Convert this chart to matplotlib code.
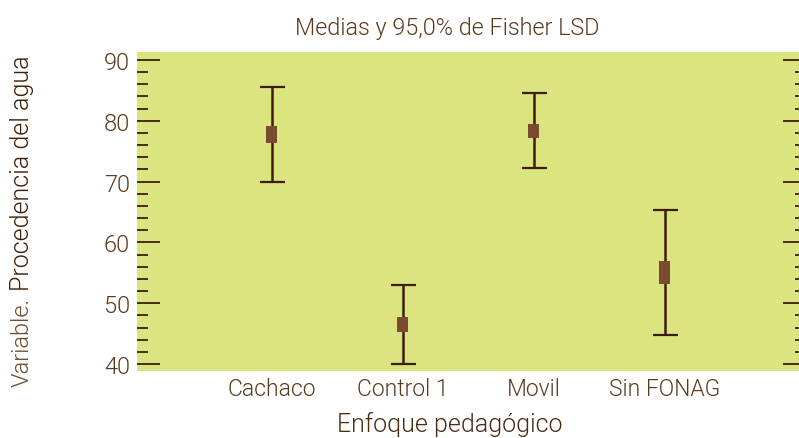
import matplotlib
matplotlib.use("Agg")
import matplotlib.pyplot as plt
import numpy as np

categories = ["Cachaco", "Control 1", "Movil", "Sin FONAG"]
means = [77.7, 46.5, 78.3, 55.0]
lower = [70.0, 40.0, 72.2, 44.7]
upper = [85.5, 53.0, 84.5, 65.4]
box_half = [1.37, 1.2, 1.15, 1.87]
yticks = [40, 50, 60, 70, 80, 90]

plt.rcParams['font.family'] = ['Roboto', 'DejaVu Sans']
plt.rcParams['font.weight'] = 300

bg = "#dbe47e"
line_c = "#3c1e08"
box_c = "#7a4a31"
txt_c = "#5a3a1e"

fig = plt.figure(figsize=(7.99, 4.39), dpi=100)
ax = fig.add_axes([137/799, 1-372/439, (806-137)/799, (372-53)/439])
ax.set_facecolor(bg)
for s in ax.spines.values():
    s.set_visible(False)

x = np.arange(1, len(categories) + 1)
m = np.array(means)
lo = np.array(lower)
hi = np.array(upper)
ax.errorbar(x, m, yerr=[m - lo, hi - m], fmt='none', ecolor=line_c,
            elinewidth=1.8, capsize=9, capthick=1.6, zorder=2)
bh = np.array(box_half)
ax.bar(x, 2 * bh, bottom=m - bh, width=0.084, color=box_c, zorder=3)

ax.set_xlim(-0.03, 5.08)
ax.set_ylim(38.85, 91.3)
ax.set_yticks(yticks)
ax.set_yticks(np.arange(40, 91, 2), minor=True)
ax.set_xticks(x)
ax.set_xticklabels(categories)
ax.tick_params(axis='x', length=0, pad=4, labelsize=16.5, colors=txt_c)
ax.tick_params(axis='y', which='major', direction='in', length=16.5, width=1.3,
               color=line_c, right=True, labelsize=17, labelcolor=txt_c, pad=5)
ax.tick_params(axis='y', which='minor', direction='in', length=8, width=1.3,
               color=line_c, right=True)

fig.text(447/799, 1-28/439, "Medias y 95,0% de Fisher LSD", ha='center', va='center',
         fontsize=16.8, color=txt_c)
fig.text(450/799, 1-424/439, "Enfoque pedagógico", ha='center', va='center',
         fontsize=18, color="#4a2c12")
fig.text(22/799, 1-387/439, "Variable.", rotation=90, ha='center', va='bottom',
         fontsize=17, color="#6e4e30")
fig.text(22/799, 1-291/439, "Procedencia del agua", rotation=90, ha='center', va='bottom',
         fontsize=18, color="#3e2008")

fig.savefig("out.png", dpi=100, facecolor="white")
